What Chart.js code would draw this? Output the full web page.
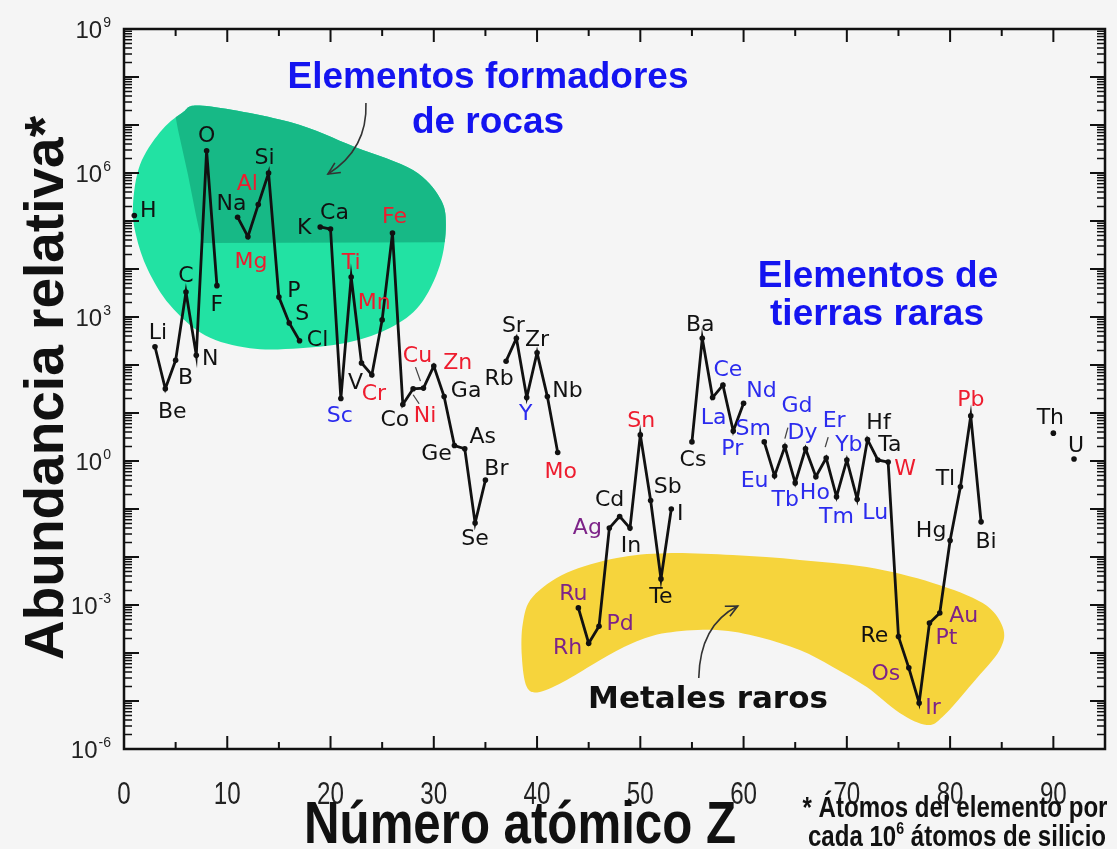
<!DOCTYPE html>
<html>
<head>
<meta charset="utf-8">
<script src="https://cdn.jsdelivr.net/npm/chart.js@4.4.1/dist/chart.umd.min.js"></script>
<style>
  html, body { margin: 0; padding: 0; background: #f5f5f5; }
  #wrap { width: 1117px; height: 849px; }
</style>
</head>
<body>
<div id="wrap"><canvas id="chart" width="1117" height="849"></canvas></div>
<script>
// ---- Data: relative abundance of the elements (atoms per 10^6 atoms of Si) ----
const symbols = ['H','Li','Be','B','C','N','O','F',
  'Na','Mg','Al','Si','P','S','Cl',
  'K','Ca','Sc','Ti','V','Cr','Mn','Fe','Co','Ni','Cu','Zn','Ga','Ge','As','Se','Br',
  'Rb','Sr','Y','Zr','Nb','Mo',
  'Ru','Rh','Pd','Ag','Cd','In','Sn','Sb','Te','I',
  'Cs','Ba','La','Ce','Pr','Nd',
  'Sm','Eu','Gd','Tb','Dy','Ho','Er','Tm','Yb','Lu',
  'Hf','Ta','W','Re','Os','Ir','Pt','Au','Hg','Tl','Pb','Bi',
  'Th','U'];
const atomicNumbers = [1,3,4,5,6,7,8,9,
  11,12,13,14,15,16,17,
  19,20,21,22,23,24,25,26,27,28,29,30,31,32,33,34,35,
  37,38,39,40,41,42,
  44,45,46,47,48,49,50,51,52,53,
  55,56,57,58,59,60,
  62,63,64,65,66,67,68,69,70,71,
  72,73,74,75,76,77,78,79,80,81,82,83,
  90,92];
const abundances = [1.3e5,240,32,125,3300,160,2.9e6,4500,
  1.2e5,4.7e4,2.2e5,1.0e6,2600,750,320,
  7.5e4,6.8e4,20,6800,110,62,870,5.6e4,15,32,33,95,22,2.1,1.8,0.051,0.4,
  120,360,21,180,22,1.5,
  8.7e-4,1.6e-4,3.6e-4,0.04,0.07,0.04,3.5,0.15,0.0035,0.1,
  2.5,360,21,38,4.2,16,
  2.5,0.49,2.0,0.35,1.8,0.47,1.15,0.18,1.05,0.16,
  2.8,1.05,0.95,2.2e-4,4.9e-5,9.1e-6,4.2e-4,6.8e-4,0.022,0.29,8.7,0.054,
  3.8,1.1];
const xTickLabels = [0,10,20,30,40,50,60,70,80,90];
const yTickExponents = [9,6,3,0,-3,-6];

// Label colour groups
const redSymbols = ['Mg','Al','Ti','Cr','Mn','Fe','Ni','Cu','Zn','Mo','Sn','W','Pb'];
const blueSymbols = ['Sc','Y','La','Ce','Pr','Nd','Sm','Eu','Gd','Tb','Dy','Ho','Er','Tm','Yb','Lu'];
const purpleSymbols = ['Ru','Rh','Pd','Ag','Os','Ir','Pt','Au'];

// One point per Z; missing elements are null so the line breaks there
const series = [];
for (let z = 1; z <= 92; z++) {
  const i = atomicNumbers.indexOf(z);
  series.push({ x: z, y: i >= 0 ? abundances[i] : null });
}

// ---- Styling ----
const COLORS = {
  black: '#111111', red: '#ee1c2e', blue: '#2b2bee', purple: '#7d2388',
  title: '#1414f0', lightGreen: '#22e2a3', darkGreen: '#17b986', yellow: '#f6d43c'
};
const LABEL_FONT = '22px "DejaVu Sans", sans-serif';

// label centre offsets (px) from each point
const labelOffsets = {
  H:[14,-5], Li:[3,-14], Be:[7,23], B:[10,17], C:[0,-17], N:[14,3], O:[0,-16], F:[0,19],
  Na:[-6,-14], Mg:[3,25], Al:[-11,-21], Si:[-4,-16], P:[15,-7], S:[13,-10], Cl:[18,-1],
  K:[-16,0], Ca:[4,-17], Sc:[-1,17], Ti:[0,-15], V:[-6,19], Cr:[2,18], Mn:[-8,-18], Fe:[2,-17],
  Co:[-8,15], Ni:[12,27], Cu:[-6,-33], Zn:[24,-4], Ga:[22,-6], Ge:[-18,8], As:[18,-12],
  Se:[0,15], Br:[11,-12], Rb:[-7,17], Sr:[-3,-13], Y:[-1,16], Zr:[0,-13], Nb:[20,-6], Mo:[3,19],
  Ru:[-5,-15], Rh:[-21,4], Pd:[21,-3], Ag:[-22,-1], Cd:[-10,-17], In:[1,17], Sn:[1,-15],
  Sb:[17,-14], Te:[0,17], I:[9,4], Cs:[1,17], Ba:[-2,-14], La:[1,20], Ce:[5,-16], Pr:[-1,17],
  Nd:[18,-13], Sm:[-11,-14], Eu:[-20,4], Gd:[12,-41], Tb:[-10,16], Dy:[-3,-16], Ho:[-1,16],
  Er:[8,-38], Tm:[0,20], Yb:[2,-16], Lu:[18,13], Hf:[11,-17], Ta:[12,-16], W:[17,6],
  Re:[-24,-1], Os:[-23,5], Ir:[14,4], Pt:[17,14], Au:[24,2], Hg:[-19,-10], Tl:[-15,-9],
  Pb:[0,-17], Bi:[5,19], Th:[-3,-16], U:[2,-14]
};
// short leader strokes tying crowded labels to their points [x1,y1,x2,y2] relative to the point
const leaders = { Cu:[-8,-21,-3,-7], Ni:[0,6,6,15], Gd:[3,-19,0,-8], Er:[2,-21,-1,-11] };

// Region outlines in (Z, log10 abundance) units
const rockRegion = [[7.65,7.40],[16.07,7.06],[22.36,6.54],[27.98,6.06],[30.59,5.48],[31.17,4.92],
  [30.59,4.08],[28.65,3.25],[25.75,2.77],[21.88,2.48],[17.04,2.35],[12.2,2.35],[7.84,2.62],
  [4.45,3.25],[2.32,3.98],[1.16,4.71],[0.87,5.33],[1.55,6.17],[3.48,6.85],[5.61,7.25]];
const rockCore = [[4.45,7.8],[34,7.8],[34,4.56],[7.55,4.54],[6.97,5.12],[6.2,5.96],[5.23,6.9]];
const rareMetalRegion = [[38.63,-3.375],[39.59,-2.83],[42.88,-2.33],[47.72,-2.02],[52.57,-1.92],
  [58.95,-1.96],[65.44,-2.06],[71.93,-2.21],[78.32,-2.54],[83.16,-2.96],[85.09,-3.46],
  [84.8,-3.94],[82.19,-4.625],[79.28,-5.33],[77.73,-5.5],[75.12,-5.25],[71.93,-4.71],
  [68.64,-4.29],[65.44,-3.94],[61.57,-3.67],[57.41,-3.52],[52.57,-3.58],[49.27,-3.79],
  [46.08,-4.15],[42.88,-4.56],[40.27,-4.81],[39.01,-4.71],[38.53,-4.08]];
// curved pointer arrows: start, control, end
const rockArrow = [[23.43,7.46],[23.6,6.5],[19.75,5.98]];
const metalArrow = [[55.66,-4.52],[55.76,-3.42],[59.44,-3.02]];

function toPx(chart, p) {
  return { x: chart.scales.x.getPixelForValue(p[0]), y: chart.scales.y.getPixelForValue(Math.pow(10, p[1])) };
}
function smoothClosedPath(ctx, pts) {
  const n = pts.length;
  ctx.beginPath();
  ctx.moveTo(pts[0].x, pts[0].y);
  for (let i = 0; i < n; i++) {
    const p0 = pts[(i - 1 + n) % n], p1 = pts[i], p2 = pts[(i + 1) % n], p3 = pts[(i + 2) % n];
    ctx.bezierCurveTo(p1.x + (p2.x - p0.x) / 6, p1.y + (p2.y - p0.y) / 6,
                      p2.x - (p3.x - p1.x) / 6, p2.y - (p3.y - p1.y) / 6, p2.x, p2.y);
  }
  ctx.closePath();
}
function drawArrow(ctx, chart, def) {
  const [a, c, b] = def.map(p => toPx(chart, p));
  ctx.save();
  ctx.strokeStyle = '#333';
  ctx.lineWidth = 1.6;
  ctx.beginPath();
  ctx.moveTo(a.x, a.y);
  ctx.quadraticCurveTo(c.x, c.y, b.x, b.y);
  ctx.stroke();
  const ang = Math.atan2(b.y - c.y, b.x - c.x);
  const L = 13;
  ctx.beginPath();
  ctx.moveTo(b.x - L * Math.cos(ang - 0.45), b.y - L * Math.sin(ang - 0.45));
  ctx.lineTo(b.x, b.y);
  ctx.lineTo(b.x - L * Math.cos(ang + 0.45), b.y - L * Math.sin(ang + 0.45));
  ctx.stroke();
  ctx.restore();
}
// text squeezed horizontally (narrow face)
function narrowText(ctx, text, x, y, font, sx, align) {
  ctx.save();
  ctx.font = font;
  ctx.translate(x, y);
  ctx.scale(sx, 1);
  ctx.textAlign = align || 'center';
  ctx.textBaseline = 'alphabetic';
  ctx.fillText(text, 0, 0);
  ctx.restore();
}

const decorPlugin = {
  id: 'decor',
  beforeDraw(chart) {
    const ctx = chart.ctx;
    ctx.save();
    ctx.fillStyle = '#f5f5f5';
    ctx.fillRect(0, 0, chart.width, chart.height);
    ctx.restore();
  },
  beforeDatasetsDraw(chart) {
    const ctx = chart.ctx;
    ctx.save();
    // rock-forming elements
    smoothClosedPath(ctx, rockRegion.map(p => toPx(chart, p)));
    ctx.fillStyle = COLORS.lightGreen;
    ctx.fill();
    ctx.clip();
    const core = rockCore.map(p => toPx(chart, p));
    ctx.beginPath();
    core.forEach((p, i) => i ? ctx.lineTo(p.x, p.y) : ctx.moveTo(p.x, p.y));
    ctx.closePath();
    ctx.fillStyle = COLORS.darkGreen;
    ctx.fill();
    ctx.restore();
    // rare metals
    ctx.save();
    smoothClosedPath(ctx, rareMetalRegion.map(p => toPx(chart, p)));
    ctx.fillStyle = COLORS.yellow;
    ctx.fill();
    ctx.restore();

    drawArrow(ctx, chart, rockArrow);
    drawArrow(ctx, chart, metalArrow);

    // group captions
    ctx.save();
    ctx.fillStyle = COLORS.title;
    ctx.font = 'bold 37px "Liberation Sans", Arial, sans-serif';
    ctx.textAlign = 'center';
    ctx.fillText('Elementos formadores', 488, 88);
    ctx.fillText('de rocas', 488, 133);
    ctx.fillText('Elementos de', 878, 287);
    ctx.fillText('tierras raras', 877, 325);
    ctx.fillStyle = COLORS.black;
    ctx.font = 'bold 31px "DejaVu Sans", sans-serif';
    ctx.fillText('Metales raros', 708, 708);
    ctx.restore();
  },
  afterDatasetsDraw(chart) {
    const ctx = chart.ctx;
    const meta = chart.getDatasetMeta(0);
    ctx.save();
    ctx.font = LABEL_FONT;
    ctx.textAlign = 'center';
    ctx.textBaseline = 'middle';
    symbols.forEach((s, i) => {
      const pt = meta.data[atomicNumbers[i] - 1];
      const off = labelOffsets[s] || [0, -15];
      ctx.fillStyle = redSymbols.includes(s) ? COLORS.red
        : blueSymbols.includes(s) ? COLORS.blue
        : purpleSymbols.includes(s) ? COLORS.purple : COLORS.black;
      ctx.fillText(s, pt.x + off[0], pt.y + off[1] + 1);
      const ld = leaders[s];
      if (ld) {
        ctx.save();
        ctx.strokeStyle = '#444';
        ctx.lineWidth = 1.3;
        ctx.beginPath();
        ctx.moveTo(pt.x + ld[0], pt.y + ld[1]);
        ctx.lineTo(pt.x + ld[2], pt.y + ld[3]);
        ctx.stroke();
        ctx.restore();
      }
    });
    ctx.restore();
  },
  afterDraw(chart) {
    const ctx = chart.ctx;
    const area = chart.chartArea;
    const xs = chart.scales.x, ys = chart.scales.y;
    ctx.save();
    ctx.strokeStyle = '#111';
    // frame
    ctx.lineWidth = 2.5;
    ctx.strokeRect(area.left, area.top, area.right - area.left, area.bottom - area.top);
    // x ticks every 5 units, inward on top and bottom
    ctx.lineWidth = 2;
    for (let v = 0; v <= 95; v += 5) {
      const px = xs.getPixelForValue(v);
      const len = v % 10 === 0 ? 13 : 7;
      ctx.beginPath();
      ctx.moveTo(px, area.bottom); ctx.lineTo(px, area.bottom - len);
      ctx.moveTo(px, area.top); ctx.lineTo(px, area.top + len);
      ctx.stroke();
    }
    // y ticks per decade plus log minors, inward on left and right
    for (let e = -6; e <= 9; e++) {
      for (let m = 1; m <= 9; m++) {
        if (e === 9 && m > 1) break;
        const py = ys.getPixelForValue(m * Math.pow(10, e));
        const len = m === 1 ? 15 : 8;
        ctx.lineWidth = m === 1 ? 2 : 1.5;
        ctx.beginPath();
        ctx.moveTo(area.left, py); ctx.lineTo(area.left + len, py);
        ctx.moveTo(area.right, py); ctx.lineTo(area.right - len, py);
        ctx.stroke();
      }
    }
    // y tick labels 10^n
    ctx.fillStyle = '#222';
    ctx.textBaseline = 'alphabetic';
    yTickExponents.forEach(e => {
      const py = ys.getPixelForValue(Math.pow(10, e));
      const exp = String(e);
      ctx.font = '24px "Liberation Sans", Arial, sans-serif';
      const wBase = ctx.measureText('10').width;
      ctx.font = '14px "Liberation Sans", Arial, sans-serif';
      const wExp = ctx.measureText(exp).width;
      const right = 111;
      ctx.textAlign = 'left';
      ctx.font = '24px "Liberation Sans", Arial, sans-serif';
      ctx.fillText('10', right - wExp - wBase - 1, py + 9);
      ctx.font = '14px "Liberation Sans", Arial, sans-serif';
      ctx.fillText(exp, right - wExp, py - 2);
    });
    // x tick labels
    xTickLabels.forEach(v => {
      narrowText(ctx, String(v), xs.getPixelForValue(v), 804, '31px "Liberation Sans", Arial, sans-serif', 0.78, 'center');
    });
    // axis titles
    ctx.fillStyle = '#111';
    narrowText(ctx, 'Número atómico Z', 520, 843, 'bold 60px "Liberation Sans", Arial, sans-serif', 0.82, 'center');
    ctx.save();
    ctx.translate(63, 388);
    ctx.rotate(-Math.PI / 2);
    ctx.font = 'bold 55px "Liberation Sans", Arial, sans-serif';
    ctx.textAlign = 'center';
    ctx.textBaseline = 'alphabetic';
    ctx.fillText('Abundancia relativa*', 0, 0);
    ctx.restore();
    // footnote
    const fn = 'bold 29px "Liberation Sans", Arial, sans-serif';
    const sx = 0.83;
    narrowText(ctx, '* Átomos del elemento por', 955, 817, fn, sx, 'center');
    ctx.font = fn;
    const partA = 'cada 10', partB = ' átomos de silicio';
    const wA = ctx.measureText(partA).width * sx, wB = ctx.measureText(partB).width * sx;
    ctx.font = 'bold 17px "Liberation Sans", Arial, sans-serif';
    const wS = ctx.measureText('6').width * sx;
    const start = 957 - (wA + wS + wB) / 2;
    narrowText(ctx, partA, start, 846, fn, sx, 'left');
    narrowText(ctx, '6', start + wA, 834, 'bold 17px "Liberation Sans", Arial, sans-serif', sx, 'left');
    narrowText(ctx, partB, start + wA + wS, 846, fn, sx, 'left');
    ctx.restore();
  }
};

new Chart(document.getElementById('chart'), {
  type: 'line',
  data: {
    datasets: [{
      label: 'Abundancia relativa',
      data: series,
      borderColor: '#111',
      borderWidth: 2.8,
      pointRadius: 2.8,
      pointBackgroundColor: '#111',
      pointBorderWidth: 0,
      tension: 0,
      spanGaps: false
    }]
  },
  options: {
    responsive: false,
    animation: false,
    devicePixelRatio: 1,
    layout: { padding: { left: 124, right: 12, top: 29, bottom: 100 } },
    plugins: { legend: { display: false }, tooltip: { enabled: false } },
    scales: {
      x: { type: 'linear', min: 0, max: 95, display: false },
      y: { type: 'logarithmic', min: 1e-6, max: 1e9, display: false }
    }
  },
  plugins: [decorPlugin]
});
</script>
</body>
</html>
